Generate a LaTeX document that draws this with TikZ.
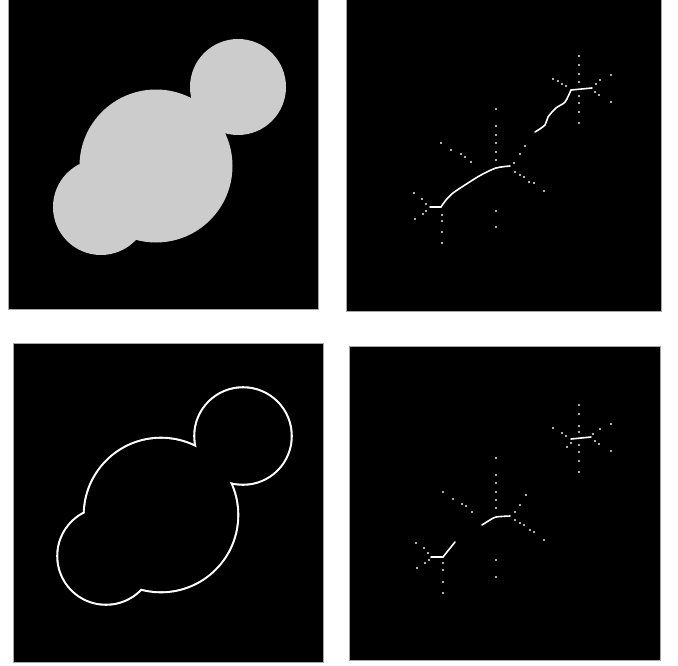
\documentclass[tikz,border=0pt]{standalone}
\begin{document}
\begin{tikzpicture}[x=1pt,y=-1pt,
  panel/.style={fill=black,draw=gray!70,line width=0.6pt},
  blob/.style={fill=gray!40!white},
  skel/.style={draw=white,line width=1.6pt,line cap=round,line join=round},
  dotc/.style={fill=white!85!gray}]
\useasboundingbox (0,0) rectangle (678,665);
\fill[white] (0,0) rectangle (678,665);
% panels
\draw[panel] (8,-1) rectangle (318,309);
\draw[panel] (346,-1) rectangle (661,311);
\draw[panel] (13,343) rectangle (323,662);
\draw[panel] (349,346) rectangle (660,660);
% top-left filled shape
\fill[blob] (156,166) circle (76.5) (238,87) circle (48) (101,207) circle (48);
% bottom-left outline
\begin{scope}[shift={(5,349)}]
\fill[white] (156,166) circle (78.3) (238,87) circle (49.8) (101,207) circle (49.8);
\fill[black] (156,166) circle (76.2) (238,87) circle (47.7) (101,207) circle (47.7);
\end{scope}
% top-right skeleton
\draw[skel] plot[smooth] coordinates {(571,90) (565,102) (556,108) (548,117) (545,125) (535,132)};
\draw[skel] (571,90) -- (592,88);
\draw[skel] plot[smooth] coordinates {(510,166) (496,168) (481,175) (468,183) (453,193) (446,200) (441,207)};
\draw[skel] (430,207) -- (441,207);
\foreach \p in {(579,56),(579,65),(579,74),(579,82),(579,96),(579,103),(579,112),(579,123),
  (553,79),(558,81),(562,84),(566,86),(611,75),(600,80),(596,84),(611,102),(599,95),(595,92),(567,99),
  (525,146),(520,154),(514,163),
  (496,109),(496,126),(496,135),(496,143),(496,152),(496,160),(496,211),(496,227),
  (441,143),(451,150),(461,154),(465,157),(471,162),
  (515,172),(520,175),(524,177),(529,182),(534,183),(544,191),
  (442,215),(442,221),(442,232),(442,243),
  (414,193),(422,199),(426,204),(415,219),(423,214),(426,211)}
  \fill[dotc] \p circle (1.1);
% bottom-right skeleton
\draw[skel] (571,439) -- (591,437);
\draw[skel] plot[smooth] coordinates {(482,525) (490,520) (496,517) (510,516)};
\draw[skel] (455,542) -- (443,557);
\draw[skel] (431,557) -- (443,557);
\foreach \p in {(579,405),(579,414),(579,426),(579,432),(579,445),(579,452),(579,461),(579,472),
  (553,428),(562,433),(566,436),(611,424),(600,429),(593,434),(611,451),(599,444),(595,441),(567,447),(571,443),
  (496,458),(496,475),(496,483),(496,492),(496,500),(496,508),(496,560),(496,577),
  (443,492),(453,499),(462,504),(466,506),(472,512),
  (526,495),(520,505),(515,512),
  (515,520),(520,523),(524,525),(530,530),(534,532),(544,540),
  (443,563),(443,570),(443,582),(443,593),
  (416,543),(424,548),(428,553),(417,568),(425,563),(429,560)}
  \fill[dotc] \p circle (1.1);
\end{tikzpicture}
\end{document}
